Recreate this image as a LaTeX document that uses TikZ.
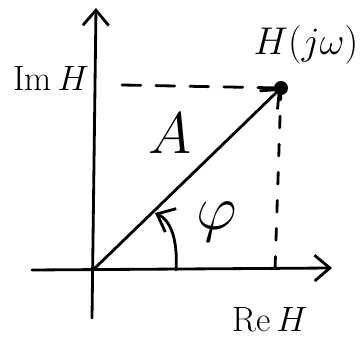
\RequirePackage{fix-cm}
\documentclass[tikz,border=0pt]{standalone}
\usetikzlibrary{arrows.meta}
\tikzset{
  lbl/.style={inner sep=0pt, font=\fontsize{30}{34}\selectfont},
  barb/.style={-{Straight Barb[length=13pt, width=22pt, line width=2.4pt]}},
  proj/.style={dash pattern=on 16pt off 13pt}
}
\begin{document}
\begin{tikzpicture}[x=0.03cm, y=-0.03cm, line width=2.4pt, line join=round, line cap=round]
\useasboundingbox (0,0) rectangle (362,349);
\path
(93,270) coordinate (O)
(32,270) coordinate (xl)
(332,268) coordinate (xr)
(92,318) coordinate (yb)
(96,8) coordinate (yt)
(281,88) coordinate (H)
(275,270) coordinate (Hx)
(122,85) coordinate (Hy)
(176,270) coordinate (arcA)
(155,213) coordinate (arcB)
;
% axes
\draw[barb] (xl)--(xr);
\draw[barb] (yb)--(yt);
% projections
\draw[proj] (Hy)--(H);
\draw[dash pattern=on 10pt off 14pt] (H)--(Hx);
% phasor
\draw[barb] (O)--(H);
\fill (H) circle (7);
\draw[barb] (arcA) .. controls (178,238) and (170,220) .. (arcB);
% labels
\node[lbl] (imH) at (51,78) {Im\,$H$};
\node[lbl] (reH) at (270,320) {Re\,$H$};
\node[lbl, font=\fontsize{33}{38}\selectfont] (Hjw) at (306,45) {$H(j\omega)$};
\node[lbl, font=\fontsize{50}{56}\selectfont] (amp) at (170,133) {$A$};
\node[lbl, font=\fontsize{54}{60}\selectfont] (phi) at (217,222) {$\varphi$};
\end{tikzpicture}
\end{document}
